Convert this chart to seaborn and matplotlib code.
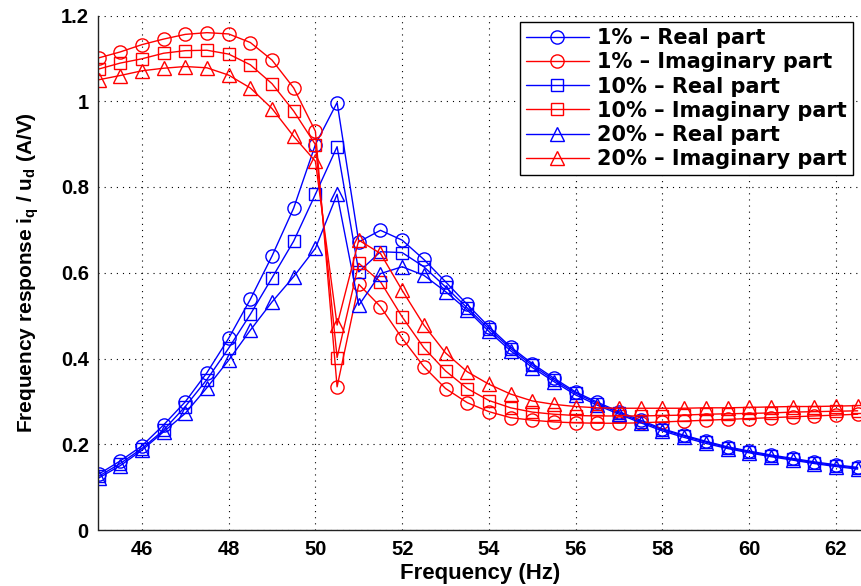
import matplotlib
matplotlib.use("Agg")
import matplotlib.pyplot as plt
import seaborn as sns
import pandas as pd

freq = [45, 45.5, 46, 46.5, 47, 47.5, 48, 48.5, 49, 49.5, 50, 50.5, 51, 51.5,
        52, 52.5, 53, 53.5, 54, 54.5, 55, 55.5, 56, 56.5, 57, 57.5, 58, 58.5,
        59, 59.5, 60, 60.5, 61, 61.5, 62, 62.5]

real_1 = [0.130, 0.161, 0.196, 0.245, 0.299, 0.367, 0.447, 0.538, 0.639, 0.751,
          0.899, 0.997, 0.672, 0.699, 0.676, 0.631, 0.579, 0.526,
          0.474, 0.427, 0.388, 0.354, 0.322, 0.298, 0.276, 0.256, 0.236, 0.221,
          0.207, 0.194, 0.184, 0.175, 0.167, 0.159, 0.152, 0.146]
imag_1 = [1.101, 1.115, 1.132, 1.145, 1.156, 1.160, 1.157, 1.137, 1.096, 1.031,
          0.930, 0.334, 0.573, 0.521, 0.447, 0.381, 0.330, 0.297, 0.276, 0.262,
          0.256, 0.252, 0.250, 0.249, 0.249, 0.250, 0.252, 0.254, 0.256, 0.258,
          0.260, 0.262, 0.264, 0.266, 0.268, 0.270]
real_10 = [0.125, 0.155, 0.190, 0.233, 0.288, 0.351, 0.424, 0.503, 0.588, 0.674,
           0.783, 0.894, 0.602, 0.649, 0.647, 0.614, 0.567, 0.518,
           0.469, 0.423, 0.384, 0.350, 0.319, 0.295, 0.273, 0.253, 0.234, 0.219,
           0.205, 0.192, 0.182, 0.173, 0.165, 0.157, 0.150, 0.144]
imag_10 = [1.075, 1.089, 1.099, 1.112, 1.118, 1.119, 1.110, 1.085, 1.041, 0.977,
           0.899, 0.402, 0.622, 0.579, 0.497, 0.425, 0.371, 0.330, 0.302, 0.285,
           0.275, 0.270, 0.267, 0.266, 0.266, 0.266, 0.267, 0.268, 0.270, 0.271,
           0.272, 0.273, 0.275, 0.276, 0.277, 0.278]
real_20 = [0.121, 0.150, 0.186, 0.229, 0.272, 0.332, 0.396, 0.466, 0.532, 0.591,
           0.657, 0.783, 0.524, 0.598, 0.614, 0.594, 0.556, 0.513,
           0.463, 0.418, 0.379, 0.346, 0.315, 0.291, 0.270, 0.250, 0.231, 0.216,
           0.202, 0.190, 0.180, 0.171, 0.163, 0.155, 0.148, 0.142]
imag_20 = [1.050, 1.060, 1.071, 1.077, 1.081, 1.078, 1.061, 1.031, 0.983, 0.918,
           0.860, 0.478, 0.676, 0.645, 0.559, 0.478, 0.413, 0.369, 0.340, 0.317,
           0.301, 0.293, 0.288, 0.285, 0.284, 0.284, 0.284, 0.284, 0.285, 0.285,
           0.286, 0.287, 0.288, 0.288, 0.289, 0.290]

series_labels = ["1% \u2013 Real part", "1% \u2013 Imaginary part",
                 "10% \u2013 Real part", "10% \u2013 Imaginary part",
                 "20% \u2013 Real part", "20% \u2013 Imaginary part"]
series_values = [real_1, imag_1, real_10, imag_10, real_20, imag_20]
series_colors = ["#0000ff", "#ff0000", "#0000ff", "#ff0000", "#0000ff", "#ff0000"]
series_markers = ["o", "o", "s", "s", "^", "^"]

x_ticks = [46, 48, 50, 52, 54, 56, 58, 60, 62]
y_ticks = [0, 0.2, 0.4, 0.6, 0.8, 1.0, 1.2]
y_ticklabels = ["0", "0.2", "0.4", "0.6", "0.8", "1", "1.2"]

sns.set_theme(style="white")
plt.rcParams["font.family"] = ["Liberation Sans", "DejaVu Sans"]
plt.rcParams["mathtext.fontset"] = "custom"
plt.rcParams["mathtext.bf"] = "Liberation Sans:bold"
plt.rcParams["mathtext.rm"] = "Liberation Sans"
plt.rcParams["text.color"] = "black"
plt.rcParams["axes.labelcolor"] = "black"
plt.rcParams["xtick.color"] = "black"
plt.rcParams["ytick.color"] = "black"

fig = plt.figure(figsize=(8.62, 5.86), dpi=100)
ax = fig.add_axes([98.5 / 862, 56 / 586, (862 - 98.5) / 862, 514.5 / 586])

for lab, vals, col, mk in zip(series_labels, series_values, series_colors, series_markers):
    df = pd.DataFrame({"freq": freq, "val": vals})
    sns.lineplot(data=df, x="freq", y="val", ax=ax, color=col, marker=mk,
                 markersize=9.5 if mk != "s" else 8.5, markerfacecolor="none",
                 markeredgecolor=col, markeredgewidth=1.0, linewidth=1.0,
                 label=lab, estimator=None, sort=False)

ax.set_xlim(45, 62.6)
ax.set_ylim(0, 1.2)
ax.set_xticks(x_ticks)
ax.set_xticklabels([str(t) for t in x_ticks])
ax.set_yticks(y_ticks)
ax.set_yticklabels(y_ticklabels)

ax.grid(True, color="black", linestyle=(0, (1, 4.5)), linewidth=0.8)
for s in ["top", "right"]:
    ax.spines[s].set_visible(False)
for s in ["left", "bottom"]:
    ax.spines[s].set_color("#222222")
    ax.spines[s].set_linewidth(1.0)

ax.tick_params(axis="both", direction="in", length=4, width=0.8, color="#222222",
               labelsize=14.5, labelcolor="black")
ax.tick_params(axis="y", pad=7)
ax.tick_params(axis="x", pad=7.5)
for t in ax.get_xticklabels() + ax.get_yticklabels():
    t.set_fontweight("bold")

ax.set_xlabel("Frequency (Hz)", fontsize=16, fontweight="bold", color="black")
ax.xaxis.set_label_coords(0.5, -0.0645)
ax.set_ylabel(r"Frequency response i$_\mathbf{q}$ / u$_\mathbf{d}$ (A/V)",
              fontsize=15, fontweight="bold", labelpad=14, color="black")

leg = ax.legend(loc="upper right", bbox_to_anchor=(853 / 862, (586 - 22) / 586),
                bbox_transform=fig.transFigure,
                prop={"family": "DejaVu Sans", "weight": "bold", "size": 15},
                frameon=True, fancybox=False, edgecolor="black", framealpha=1,
                handlelength=3.0, handletextpad=0.4, labelspacing=0.2,
                borderpad=0.3, borderaxespad=0.0)
leg.get_frame().set_linewidth(1.0)
for txt in leg.get_texts():
    txt.set_color("black")

fig.savefig("out.png", dpi=100)
